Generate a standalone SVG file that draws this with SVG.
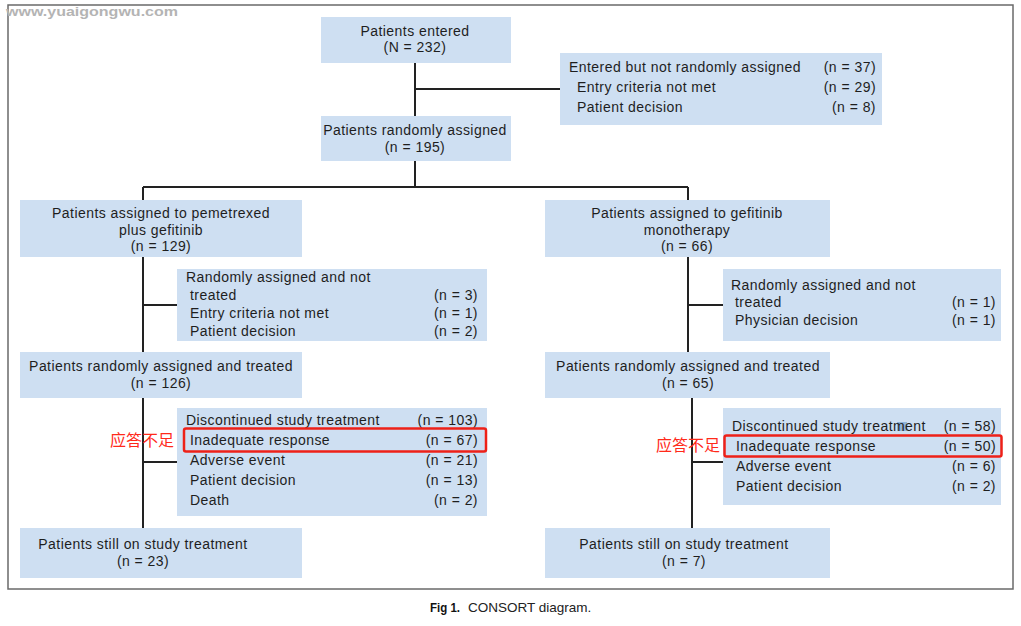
<svg xmlns="http://www.w3.org/2000/svg" width="1021" height="626" viewBox="0 0 1021 626">
<style>
.box{fill:#cedff2}
.t{font-family:"Liberation Sans",Arial,sans-serif;font-size:14px;fill:#1e1e1e;letter-spacing:0.45px}
.c{text-anchor:middle}
.r{text-anchor:end}
.ln{stroke:#222;stroke-width:2;fill:none}
.hl{fill:none;stroke:#ee2118;stroke-width:2.5}
.cn{font-family:"Noto Sans CJK SC",sans-serif;font-size:16px;fill:#ff2a1a}
</style>
<rect x="0" y="0" width="1021" height="626" fill="#fff"/>
<rect x="8" y="5" width="1005" height="584" fill="none" stroke="#6a6a6a" stroke-width="1.5"/>
<text x="6" y="16" font-family="Liberation Sans,Arial,sans-serif" font-weight="bold" font-size="12.5" fill="#b4b4b4" textLength="172" lengthAdjust="spacingAndGlyphs">www.yuaigongwu.com</text>

<g id="connectors">
<path class="ln" d="M415 63V187M415 89H560M143 187H688M143 187V528M688 187V352M143 305H178M688 305H723M143 462H178M692 398V528M692 462H723"/>
</g>

<g id="entered">
<rect class="box" x="321" y="17" width="190" height="46"/>
<text class="t c" x="415" y="36">Patients entered</text>
<text class="t c" x="415" y="52">(N = 232)</text>
</g>

<g id="not-randomized">
<rect class="box" x="560" y="53" width="322" height="72"/>
<text class="t" x="569" y="72">Entered but not randomly assigned</text>
<text class="t r" x="876" y="72">(n = 37)</text>
<text class="t" x="577" y="92">Entry criteria not met</text>
<text class="t r" x="876" y="92">(n = 29)</text>
<text class="t" x="577" y="112">Patient decision</text>
<text class="t r" x="876" y="112">(n = 8)</text>
</g>

<g id="randomized">
<rect class="box" x="321" y="116" width="190" height="45"/>
<text class="t c" x="415" y="135">Patients randomly assigned</text>
<text class="t c" x="415" y="152">(n = 195)</text>
</g>

<g id="arm-a">
<rect class="box" x="20" y="200" width="282" height="57"/>
<text class="t c" x="161" y="218">Patients assigned to pemetrexed</text>
<text class="t c" x="161" y="235">plus gefitinib</text>
<text class="t c" x="161" y="251">(n = 129)</text>
</g>

<g id="arm-a-not-treated">
<rect class="box" x="177" y="269" width="310" height="72"/>
<text class="t" x="186" y="282">Randomly assigned and not</text>
<text class="t" x="190" y="300">treated</text>
<text class="t r" x="478" y="300">(n = 3)</text>
<text class="t" x="190" y="318">Entry criteria not met</text>
<text class="t r" x="478" y="318">(n = 1)</text>
<text class="t" x="190" y="336">Patient decision</text>
<text class="t r" x="478" y="336">(n = 2)</text>
</g>

<g id="arm-a-treated">
<rect class="box" x="20" y="352" width="282" height="46"/>
<text class="t c" x="161" y="371">Patients randomly assigned and treated</text>
<text class="t c" x="161" y="388">(n = 126)</text>
</g>

<g id="arm-a-discontinued">
<rect class="box" x="177" y="408" width="310" height="108"/>
<text class="t" x="186" y="425">Discontinued study treatment</text>
<text class="t r" x="478" y="425">(n = 103)</text>
<text class="t" x="190" y="445">Inadequate response</text>
<text class="t r" x="478" y="445">(n = 67)</text>
<text class="t" x="190" y="465">Adverse event</text>
<text class="t r" x="478" y="465">(n = 21)</text>
<text class="t" x="190" y="485">Patient decision</text>
<text class="t r" x="478" y="485">(n = 13)</text>
<text class="t" x="190" y="505">Death</text>
<text class="t r" x="478" y="505">(n = 2)</text>
<rect class="hl" x="184" y="428.5" width="302" height="23" rx="2"/>
<text class="cn" x="110" y="446">应答不足</text>
</g>

<g id="arm-a-ongoing">
<rect class="box" x="20" y="528" width="282" height="50"/>
<text class="t c" x="143" y="549">Patients still on study treatment</text>
<text class="t c" x="143" y="566">(n = 23)</text>
</g>

<g id="arm-b">
<rect class="box" x="545" y="200" width="285" height="57"/>
<text class="t c" x="687" y="218">Patients assigned to gefitinib</text>
<text class="t c" x="687" y="235">monotherapy</text>
<text class="t c" x="687" y="251">(n = 66)</text>
</g>

<g id="arm-b-not-treated">
<rect class="box" x="723" y="269" width="278" height="72"/>
<text class="t" x="731" y="290">Randomly assigned and not</text>
<text class="t" x="735" y="307">treated</text>
<text class="t r" x="996" y="307">(n = 1)</text>
<text class="t" x="735" y="325">Physician decision</text>
<text class="t r" x="996" y="325">(n = 1)</text>
</g>

<g id="arm-b-treated">
<rect class="box" x="545" y="352" width="285" height="46"/>
<text class="t c" x="688" y="371">Patients randomly assigned and treated</text>
<text class="t c" x="688" y="388">(n = 65)</text>
</g>

<g id="arm-b-discontinued">
<rect class="box" x="723" y="408" width="278" height="97"/>
<rect x="897" y="422" width="10" height="9" fill="#8fb3d8"/>
<text class="t" x="732" y="431">Discontinued study treatment</text>
<text class="t r" x="996" y="431">(n = 58)</text>
<text class="t" x="736" y="451">Inadequate response</text>
<text class="t r" x="996" y="451">(n = 50)</text>
<text class="t" x="736" y="471">Adverse event</text>
<text class="t r" x="996" y="471">(n = 6)</text>
<text class="t" x="736" y="491">Patient decision</text>
<text class="t r" x="996" y="491">(n = 2)</text>
<rect class="hl" x="724.5" y="435.5" width="277" height="21" rx="2"/>
<text class="cn" x="656" y="451">应答不足</text>
</g>

<g id="arm-b-ongoing">
<rect class="box" x="545" y="528" width="285" height="50"/>
<text class="t c" x="684" y="549">Patients still on study treatment</text>
<text class="t c" x="684" y="566">(n = 7)</text>
</g>

<g id="caption">
<text x="430" y="612" font-family="Liberation Sans,Arial,sans-serif" font-weight="bold" font-size="13" fill="#111" textLength="30" lengthAdjust="spacingAndGlyphs">Fig 1.</text>
<text x="468" y="612" font-family="Liberation Sans,Arial,sans-serif" font-size="13.5" fill="#222">CONSORT diagram.</text>
</g>
</svg>
